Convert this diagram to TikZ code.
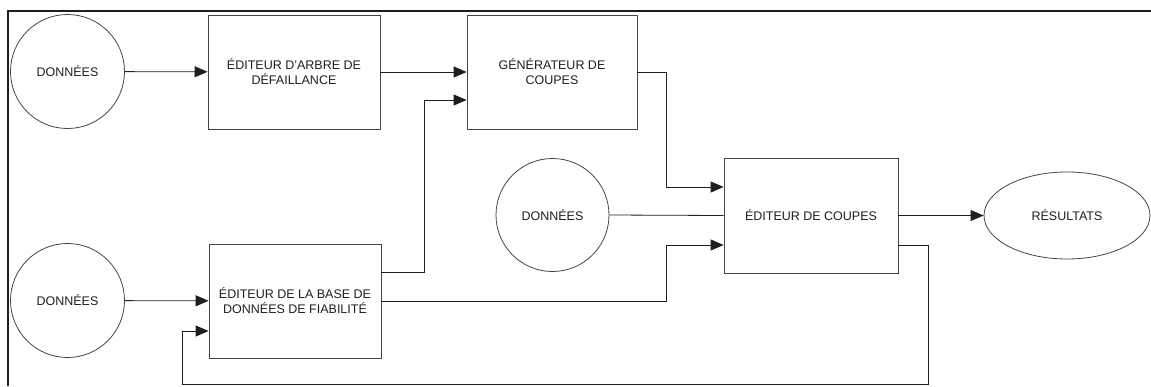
\documentclass[tikz,border=0pt]{standalone}
\usepackage{fontspec}
\setmainfont{Liberation Sans}
\usetikzlibrary{arrows.meta,shapes.geometric,calc}
\definecolor{ink}{HTML}{1E1E1E}
\definecolor{edge}{HTML}{444444}
\begin{document}
\begin{tikzpicture}[x=1pt,y=-1pt,
  every node/.style={font=\fontsize{12.5}{15}\selectfont, text=ink, align=center},
  source/.style={circle, draw=edge, line width=0.8pt, minimum size=114pt, inner sep=0pt},
  stage/.style={rectangle, draw=edge, line width=0.8pt, minimum width=172pt, minimum height=114pt, inner sep=0pt},
  sink/.style={ellipse, draw=edge, line width=0.8pt, minimum width=166pt, minimum height=87pt, inner sep=0pt},
  flow/.style={draw=ink, line width=0.8pt, -{Triangle[length=13pt,width=11pt]}},
  plain/.style={draw=ink, line width=0.8pt},
  frame/.style={draw=ink, line width=1.2pt}]
  \useasboundingbox (0,0) rectangle (1151,386);

  % outer frame (top and left edges)
  \coordinate (ftl) at (8,11);
  \coordinate (ftr) at (1151,11);
  \coordinate (fbl) at (8,386);
  \draw[frame] (fbl) -- (ftl) -- (ftr);

  % data sources
  \node[source] (d1) at (67.5,71.5) {DONNÉES};
  \node[source] (d2) at (67.5,300.5) {DONNÉES};
  \node[source, minimum size=113pt] (d3) at (552.5,215) {DONNÉES};

  % processing stages
  \node[stage] (arbre) at (294,72) {ÉDITEUR D'ARBRE DE\\DÉFAILLANCE};
  \node[stage, minimum width=170pt] (gen) at (552,72) {GÉNÉRATEUR DE\\COUPES};
  \node[stage] (base) at (295,301) {ÉDITEUR DE LA BASE DE\\DONNÉES DE FIABILITÉ};
  \node[stage, minimum width=174pt, minimum height=115pt] (coupes) at (811,215.5) {ÉDITEUR DE COUPES};

  % result
  \node[sink] (res) at (1067,215.5) {RÉSULTATS};

  % connections
  \draw[flow] (d1) -- (arbre);
  \draw[flow] (d2) -- (base);
  \draw[flow] (arbre.east) -- (gen.west);
  \draw[flow] ([yshift=29pt]base.east) -| (424,100) -- ([yshift=-28pt]gen.west);
  \draw[flow] (gen.east) -| (666,187) -- ([yshift=28.5pt]coupes.west);
  \draw[plain] (d3.east) -- (coupes.west);
  \draw[flow] (base.east) -| (666,245) -- ([yshift=-29.5pt]coupes.west);
  \draw[flow] (coupes.east) -- (res.west);

  % feedback loop back to the reliability database editor
  \coordinate (fb) at (928,384.5);
  \draw[flow] ([yshift=-29.5pt]coupes.east) -| (fb) -| (182,331) -- ([yshift=-30pt]base.west);
\end{tikzpicture}
\end{document}
